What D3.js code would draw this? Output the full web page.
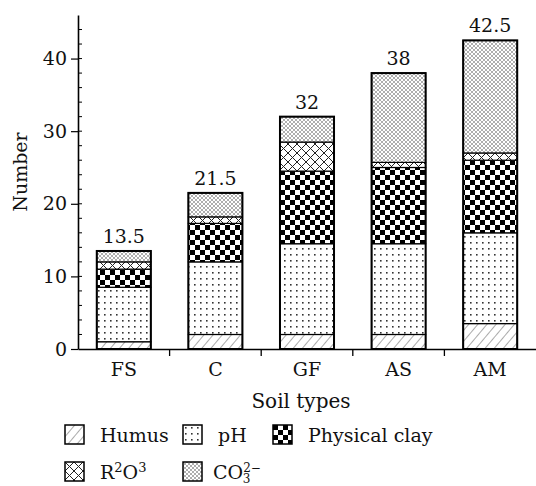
<!DOCTYPE html>
<html>
<head>
<meta charset="utf-8">
<script src="https://cdn.jsdelivr.net/npm/d3@7"></script>
<style>
  body { margin: 0; background: #fff; }
  text { font-family: "DejaVu Serif", serif; fill: #111; }
</style>
</head>
<body>
<svg width="536" height="486"></svg>
<script>
const soilTypes = ["FS", "C", "GF", "AS", "AM"];
const components = ["Humus", "pH", "Clay", "R2O3", "CO3"];
const humus = [1, 2, 2, 2, 3.5];
const pH = [7.5, 10, 12.5, 12.5, 12.5];
const physicalClay = [2.5, 5.3, 10, 10.5, 10];
const r2o3 = [1, 0.9, 4, 0.7, 1];
const co3 = [1.5, 3.3, 3.5, 12.3, 15.5];
const totals = [13.5, 21.5, 32, 38, 42.5];
const yTicks = [0, 10, 20, 30, 40];

const svg = d3.select("svg"),
  width = +svg.attr("width"),
  height = +svg.attr("height");

const margin = {left: 78, right: 0, top: 15, bottom: 137};

// table for the stack
const table = soilTypes.map((s, i) => ({
  soil: s,
  Humus: humus[i],
  pH: pH[i],
  Clay: physicalClay[i],
  R2O3: r2o3[i],
  CO3: co3[i]
}));

const x = d3.scaleBand()
  .domain(soilTypes)
  .range([margin.left, width - margin.right])
  .paddingInner(0.41)
  .paddingOuter(0.205);

const y = d3.scaleLinear()
  .domain([0, 46])
  .range([height - margin.bottom, margin.top]);

// patterns
const defs = svg.append("defs");

const pHumus = defs.append("pattern").attr("id", "p-Humus")
  .attr("patternUnits", "userSpaceOnUse").attr("width", 7).attr("height", 7)
  .attr("patternTransform", "rotate(40)");
pHumus.append("rect").attr("width", 7).attr("height", 7).attr("fill", "#fff");
pHumus.append("line").attr("x1", 0).attr("y1", 0).attr("x2", 0).attr("y2", 7)
  .attr("stroke", "#666").attr("stroke-width", 1.1);

const pPh = defs.append("pattern").attr("id", "p-pH")
  .attr("patternUnits", "userSpaceOnUse").attr("width", 6).attr("height", 6);
pPh.append("rect").attr("width", 6).attr("height", 6).attr("fill", "#fff");
pPh.append("rect").attr("x", 2).attr("y", 2).attr("width", 1.6).attr("height", 1.6).attr("fill", "#333");

const pClay = defs.append("pattern").attr("id", "p-Clay")
  .attr("patternUnits", "userSpaceOnUse").attr("width", 10).attr("height", 10);
pClay.append("rect").attr("width", 10).attr("height", 10).attr("fill", "#fff");
pClay.append("rect").attr("width", 5).attr("height", 5).attr("fill", "#000");
pClay.append("rect").attr("x", 5).attr("y", 5).attr("width", 5).attr("height", 5).attr("fill", "#000");

const pR = defs.append("pattern").attr("id", "p-R2O3")
  .attr("patternUnits", "userSpaceOnUse").attr("width", 9).attr("height", 9);
pR.append("rect").attr("width", 9).attr("height", 9).attr("fill", "#fff");
pR.append("path").attr("d", "M0,0L9,9M9,0L0,9")
  .attr("stroke", "#222").attr("stroke-width", 1);

const pCo = defs.append("pattern").attr("id", "p-CO3")
  .attr("patternUnits", "userSpaceOnUse").attr("width", 4).attr("height", 4);
pCo.append("rect").attr("width", 4).attr("height", 4).attr("fill", "#fff");
pCo.append("path").attr("d", "M0,0L4,4M4,0L0,4")
  .attr("stroke", "#999").attr("stroke-width", 0.8);

const fill = k => `url(#p-${k})`;

// stacked bars
const series = d3.stack().keys(components)(table);

svg.append("g")
  .selectAll("g")
  .data(series)
  .enter().append("g")
  .attr("fill", d => fill(d.key))
  .selectAll("rect")
  .data(d => d)
  .enter().append("rect")
  .attr("x", d => x(d.data.soil))
  .attr("width", x.bandwidth())
  .attr("y", d => y(d[1]))
  .attr("height", d => y(d[0]) - y(d[1]))
  .attr("stroke", "#000")
  .attr("stroke-width", 1.2);

// outer frame of each bar
svg.append("g")
  .selectAll("rect")
  .data(table)
  .enter().append("rect")
  .attr("x", d => x(d.soil))
  .attr("width", x.bandwidth())
  .attr("y", (d, i) => y(totals[i]))
  .attr("height", (d, i) => y(0) - y(totals[i]))
  .attr("fill", "none")
  .attr("stroke", "#000")
  .attr("stroke-width", 2);

// totals above bars
svg.append("g")
  .selectAll("text")
  .data(totals)
  .enter().append("text")
  .attr("x", (d, i) => x(soilTypes[i]) + x.bandwidth() / 2)
  .attr("y", d => y(d) - 8)
  .attr("text-anchor", "middle")
  .attr("font-size", 19)
  .text(d => d);

// y axis
const yAxis = svg.append("g")
  .attr("transform", `translate(${margin.left},0)`)
  .call(d3.axisLeft(y).tickValues(yTicks).tickSize(7).tickPadding(4).tickSizeOuter(0));
yAxis.select(".domain").attr("stroke-width", 1.6);
yAxis.selectAll("text").attr("font-size", 19).attr("font-family", "DejaVu Serif");
yAxis.selectAll(".tick line").attr("stroke-width", 1.2);

// minor ticks inside
svg.append("g")
  .selectAll("line")
  .data(d3.range(2, 46, 2))
  .enter().append("line")
  .attr("x1", margin.left)
  .attr("x2", margin.left + 4)
  .attr("y1", d => y(d))
  .attr("y2", d => y(d))
  .attr("stroke", "#000")
  .attr("stroke-width", 1);

// x axis
const xAxis = svg.append("g")
  .attr("transform", `translate(0,${y(0)})`)
  .call(d3.axisBottom(x).tickSize(0).tickPadding(14).tickSizeOuter(0));
xAxis.select(".domain").attr("stroke-width", 1.6);
xAxis.selectAll("text").attr("font-size", 19).attr("font-family", "DejaVu Serif");

// ticks between categories
svg.append("g")
  .selectAll("line")
  .data(soilTypes.slice(1))
  .enter().append("line")
  .attr("x1", d => x(d) - x.step() * x.paddingInner() / 2)
  .attr("x2", d => x(d) - x.step() * x.paddingInner() / 2)
  .attr("y1", y(0))
  .attr("y2", y(0) + 7)
  .attr("stroke", "#000")
  .attr("stroke-width", 1.3);

// axis titles
svg.append("text")
  .attr("x", 301)
  .attr("y", 408)
  .attr("text-anchor", "middle")
  .attr("font-size", 20)
  .text("Soil types");

svg.append("text")
  .attr("transform", `translate(27,${(y(0) + y(46)) / 2 - 10}) rotate(-90)`)
  .attr("text-anchor", "middle")
  .attr("font-size", 19)
  .text("Number");

// legend
const legendItems = [
  {key: "Humus", label: "Humus", x: 65, y: 425},
  {key: "pH", label: "pH", x: 183, y: 425},
  {key: "Clay", label: "Physical clay", x: 273, y: 425},
  {key: "R2O3", label: "", x: 65, y: 462},
  {key: "CO3", label: "", x: 183, y: 462}
];

const legend = svg.append("g")
  .selectAll("g")
  .data(legendItems)
  .enter().append("g")
  .attr("transform", d => `translate(${d.x},${d.y})`);

legend.append("rect")
  .attr("width", 19)
  .attr("height", 19)
  .attr("fill", d => fill(d.key))
  .attr("stroke", "#000")
  .attr("stroke-width", 1.5);

legend.each(function(d) {
  const t = d3.select(this).append("text")
    .attr("x", d.key === "CO3" ? 30 : 35)
    .attr("y", 17)
    .attr("font-size", 19);
  if (d.key === "R2O3") {
    t.append("tspan").text("R");
    t.append("tspan").attr("dy", -7).attr("font-size", 13).text("2");
    t.append("tspan").attr("dy", 7).text("O");
    t.append("tspan").attr("dy", -7).attr("font-size", 13).text("3");
  } else if (d.key === "CO3") {
    t.append("tspan").text("CO");
    t.append("tspan").attr("dy", -7).attr("font-size", 12).text("2−");
    t.append("tspan").attr("dx", -18).attr("dy", 11).attr("font-size", 12).text("3");
  } else {
    t.text(d.label);
  }
});
</script>
</body>
</html>
